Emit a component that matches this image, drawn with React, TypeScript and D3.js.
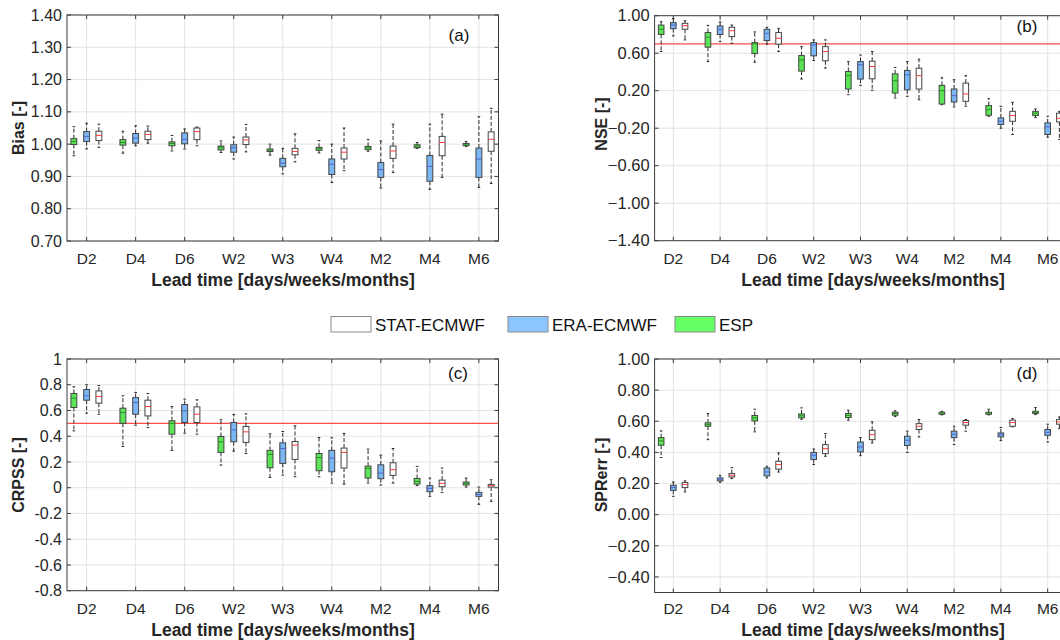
import React from "react";
import * as d3 from "d3";

const categories = ["D2", "D4", "D6", "W2", "W3", "W4", "M2", "M4", "M6"];
const seriesNames = ["STAT-ECMWF", "ERA-ECMWF", "ESP"];

// each entry: [lower whisker, q1, median, q3, upper whisker]
const biasESP = [
  [0.964, 0.999, 1.008, 1.017, 1.054], [0.972, 0.997, 1.005, 1.014, 1.04], [0.979, 0.995, 1.002, 1.007, 1.027],
  [0.974, 0.982, 0.989, 0.994, 1.01], [0.966, 0.977, 0.981, 0.985, 1.0], [0.973, 0.981, 0.986, 0.99, 1.011],
  [0.978, 0.983, 0.989, 0.993, 1.014], [0.987, 0.989, 0.994, 0.998, 1.005], [0.993, 0.995, 0.998, 1.002, 1.008],
];
const biasERA = [
  [0.985, 1.008, 1.024, 1.039, 1.065], [0.995, 1.003, 1.019, 1.033, 1.057], [0.985, 1.001, 1.015, 1.035, 1.047],
  [0.954, 0.975, 0.989, 0.998, 1.022], [0.908, 0.93, 0.941, 0.956, 0.987], [0.881, 0.906, 0.938, 0.954, 1.0],
  [0.864, 0.897, 0.921, 0.943, 1.01], [0.86, 0.885, 0.931, 0.965, 1.062], [0.866, 0.897, 0.954, 0.988, 1.085],
];
const biasSTAT = [
  [0.99, 1.011, 1.027, 1.04, 1.062], [1.003, 1.014, 1.03, 1.04, 1.056], [0.995, 1.014, 1.039, 1.05, 1.053],
  [0.976, 0.999, 1.013, 1.022, 1.061], [0.945, 0.967, 0.977, 0.987, 1.032], [0.918, 0.954, 0.975, 0.988, 1.05],
  [0.912, 0.956, 0.979, 0.994, 1.062], [0.897, 0.964, 1.005, 1.024, 1.093], [0.878, 0.978, 1.015, 1.038, 1.111],
];

const nseESP = [
  [0.618, 0.8, 0.855, 0.9, 0.936], [0.51, 0.664, 0.77, 0.82, 0.897], [0.504, 0.596, 0.7, 0.713, 0.827],
  [0.324, 0.409, 0.529, 0.575, 0.67], [0.158, 0.218, 0.36, 0.405, 0.51], [0.122, 0.175, 0.306, 0.38, 0.448],
  [0.05, 0.058, 0.2, 0.257, 0.338], [-0.073, -0.062, -0.002, 0.041, 0.115], [-0.087, -0.065, -0.04, -0.02, 0.005],
];
const nseERA = [
  [0.784, 0.862, 0.9, 0.926, 0.97], [0.724, 0.8, 0.855, 0.89, 0.933], [0.696, 0.735, 0.812, 0.855, 0.876],
  [0.522, 0.572, 0.688, 0.713, 0.742], [0.257, 0.324, 0.476, 0.51, 0.58], [0.14, 0.21, 0.37, 0.416, 0.51],
  [0.027, 0.08, 0.147, 0.218, 0.317], [-0.2, -0.16, -0.125, -0.09, 0.034], [-0.296, -0.267, -0.186, -0.143, -0.073],
];
const nseSTAT = [
  [0.742, 0.855, 0.894, 0.919, 0.947], [0.706, 0.777, 0.84, 0.876, 0.9], [0.618, 0.696, 0.759, 0.82, 0.865],
  [0.441, 0.519, 0.618, 0.67, 0.742], [0.204, 0.327, 0.458, 0.515, 0.618], [0.104, 0.218, 0.36, 0.44, 0.536],
  [0.034, 0.087, 0.165, 0.281, 0.36], [-0.267, -0.126, -0.065, -0.02, 0.076], [-0.32, -0.133, -0.094, -0.04, -0.02],
];

const crpssESP = [
  [0.442, 0.623, 0.696, 0.732, 0.784], [0.32, 0.5, 0.584, 0.618, 0.714], [0.29, 0.416, 0.5, 0.52, 0.631],
  [0.176, 0.274, 0.357, 0.398, 0.528], [0.08, 0.155, 0.259, 0.29, 0.419], [0.085, 0.132, 0.235, 0.266, 0.39],
  [0.036, 0.075, 0.15, 0.168, 0.3], [0.016, 0.028, 0.049, 0.072, 0.166], [0.005, 0.021, 0.034, 0.044, 0.075],
];
const crpssERA = [
  [0.579, 0.68, 0.714, 0.763, 0.8], [0.486, 0.571, 0.662, 0.7, 0.74], [0.424, 0.507, 0.597, 0.646, 0.688],
  [0.284, 0.357, 0.45, 0.507, 0.569], [0.098, 0.189, 0.305, 0.349, 0.437], [0.036, 0.124, 0.23, 0.29, 0.388],
  [0.021, 0.07, 0.114, 0.178, 0.253], [-0.067, -0.031, -0.005, 0.016, 0.075], [-0.129, -0.067, -0.052, -0.036, 0.005],
];
const crpssSTAT = [
  [0.571, 0.657, 0.709, 0.752, 0.794], [0.468, 0.558, 0.631, 0.68, 0.732], [0.416, 0.507, 0.571, 0.628, 0.683],
  [0.266, 0.352, 0.434, 0.476, 0.574], [0.085, 0.22, 0.331, 0.359, 0.481], [0.028, 0.153, 0.274, 0.308, 0.422],
  [0.036, 0.096, 0.14, 0.194, 0.305], [-0.036, 0.008, 0.034, 0.059, 0.153], [-0.106, 0.005, 0.016, 0.026, 0.062],
];

const sprESP = [
  [0.367, 0.446, 0.474, 0.495, 0.538], [0.482, 0.568, 0.579, 0.59, 0.65], [0.532, 0.602, 0.622, 0.637, 0.677],
  [0.613, 0.622, 0.635, 0.647, 0.686], [0.607, 0.624, 0.637, 0.65, 0.671], [0.63, 0.639, 0.65, 0.658, 0.667],
  [0.641, 0.645, 0.652, 0.658, 0.664], [0.641, 0.645, 0.652, 0.658, 0.677], [0.643, 0.65, 0.658, 0.664, 0.688],
];
const sprERA = [
  [0.118, 0.156, 0.174, 0.189, 0.21], [0.208, 0.217, 0.227, 0.236, 0.253], [0.236, 0.249, 0.274, 0.3, 0.311],
  [0.322, 0.354, 0.382, 0.4, 0.422], [0.379, 0.403, 0.435, 0.467, 0.495], [0.4, 0.444, 0.478, 0.504, 0.536],
  [0.45, 0.495, 0.517, 0.536, 0.568], [0.476, 0.5, 0.514, 0.525, 0.56], [0.467, 0.51, 0.529, 0.547, 0.581],
];
const sprSTAT = [
  [0.146, 0.174, 0.193, 0.206, 0.217], [0.232, 0.242, 0.253, 0.264, 0.302], [0.274, 0.292, 0.322, 0.343, 0.397],
  [0.375, 0.392, 0.424, 0.45, 0.521], [0.461, 0.482, 0.514, 0.542, 0.596], [0.499, 0.547, 0.568, 0.585, 0.611],
  [0.536, 0.575, 0.592, 0.605, 0.611], [0.564, 0.568, 0.592, 0.607, 0.617], [0.553, 0.581, 0.596, 0.611, 0.628],
];

const biasTicks = [0.7, 0.8, 0.9, 1.0, 1.1, 1.2, 1.3, 1.4];
const nseTicks = [-1.4, -1.0, -0.6, -0.2, 0.2, 0.6, 1.0];
const crpssTicks = [-0.8, -0.6, -0.4, -0.2, 0, 0.2, 0.4, 0.6, 0.8, 1];
const sprTicks = [-0.4, -0.2, 0, 0.2, 0.4, 0.6, 0.8, 1.0];

const FONT = "'Liberation Sans', Arial, Helvetica, sans-serif";
const COL_ESP = "#5ce457";
const COL_ERA = "#7ab6f2";
const COL_STAT = "#ffffff";

type Stats = number[][];

interface PanelProps {
  left: number; right: number; top: number; bottom: number;
  domain: [number, number];
  ticks: number[];
  fmt: (v: number) => string;
  esp: Stats; era: Stats; stat: Stats;
  refLine?: number;
  tag: string; tagX: number; tagY: number;
  yTitle: string; yTitleX: number; yTitleY: number;
  yTickSize: number; xTickSize: number;
  xTitleX: number; xTickY: number; xTitleY: number;
}

function Panel(p: PanelProps) {
  const x = d3.scaleLinear().domain([0.6, 9.4]).range([p.left, p.right]);
  const y = d3.scaleLinear().domain(p.domain).range([p.bottom, p.top]);
  const unit = x(1) - x(0);
  const bw = 0.12 * unit;
  const series = [
    { data: p.esp, off: -0.26, fill: COL_ESP, med: "#2f8a2a" },
    { data: p.era, off: 0, fill: COL_ERA, med: "#5561c8" },
    { data: p.stat, off: 0.25, fill: COL_STAT, med: "#ff3b3b" },
  ];
  const clipId = "clip-" + p.tag.replace(/[()]/g, "");
  return (
    <g>
      <defs>
        <clipPath id={clipId}>
          <rect x={p.left} y={p.top} width={p.right - p.left} height={p.bottom - p.top} />
        </clipPath>
      </defs>
      <rect x={p.left} y={p.top} width={p.right - p.left} height={p.bottom - p.top} fill="#fff" />
      {p.ticks.map((t) => (
        <line key={"gy" + t} x1={p.left} x2={p.right} y1={y(t)} y2={y(t)} stroke="#e3e3e3" strokeWidth={1} />
      ))}
      {categories.map((c, i) => (
        <line key={"gx" + c} x1={x(i + 1)} x2={x(i + 1)} y1={p.top} y2={p.bottom} stroke="#e3e3e3" strokeWidth={1} />
      ))}
      {p.refLine !== undefined && (
        <line x1={p.left} x2={p.right} y1={y(p.refLine)} y2={y(p.refLine)} stroke="#ff4d4d" strokeWidth={1.2} />
      )}
      <g clipPath={`url(#${clipId})`}>
        {series.map((s, si) =>
          s.data.map((d, i) => {
            const cx = x(i + 1 + s.off);
            const [lo, q1, med, q3, hi] = d;
            const cap = bw * 0.45;
            return (
              <g key={si + "-" + i}>
                <line x1={cx} x2={cx} y1={y(q3)} y2={y(hi)} stroke="#2a2a2a" strokeWidth={1} strokeDasharray="4,2" />
                <line x1={cx} x2={cx} y1={y(q1)} y2={y(lo)} stroke="#2a2a2a" strokeWidth={1} strokeDasharray="4,2" />
                <line x1={cx - cap / 2} x2={cx + cap / 2} y1={y(hi)} y2={y(hi)} stroke="#2a2a2a" strokeWidth={1} />
                <line x1={cx - cap / 2} x2={cx + cap / 2} y1={y(lo)} y2={y(lo)} stroke="#2a2a2a" strokeWidth={1} />
                <rect x={cx - bw / 2} y={y(q3)} width={bw} height={Math.max(1, y(q1) - y(q3))}
                  fill={s.fill} stroke="#444" strokeWidth={1} />
                <line x1={cx - bw / 2} x2={cx + bw / 2} y1={y(med)} y2={y(med)} stroke={s.med} strokeWidth={1} />
              </g>
            );
          })
        )}
      </g>
      <rect x={p.left} y={p.top} width={p.right - p.left} height={p.bottom - p.top} fill="none" stroke="#3c3c3c" strokeWidth={1} />
      {p.ticks.map((t) => (
        <g key={"ty" + t}>
          <line x1={p.left} x2={p.left + 4} y1={y(t)} y2={y(t)} stroke="#3c3c3c" />
          <line x1={p.right} x2={p.right - 4} y1={y(t)} y2={y(t)} stroke="#3c3c3c" />
        </g>
      ))}
      {categories.map((c, i) => (
        <g key={"tx" + c}>
          <line x1={x(i + 1)} x2={x(i + 1)} y1={p.bottom} y2={p.bottom - 4} stroke="#3c3c3c" />
          <line x1={x(i + 1)} x2={x(i + 1)} y1={p.top} y2={p.top + 4} stroke="#3c3c3c" />
        </g>
      ))}
      {p.ticks.map((t) => (
        <text key={"ly" + t} x={p.left - 5} y={y(t)} dy="0.35em" textAnchor="end"
          fontFamily={FONT} fontSize={p.yTickSize} fill="#262626">{p.fmt(t)}</text>
      ))}
      {categories.map((c, i) => (
        <text key={"lx" + c} x={x(i + 1)} y={p.xTickY} textAnchor="middle"
          fontFamily={FONT} fontSize={p.xTickSize} fill="#262626">{c}</text>
      ))}
      <text x={p.xTitleX} y={p.xTitleY} textAnchor="middle" fontFamily={FONT} fontWeight="bold"
        fontSize={17.5} fill="#262626">Lead time [days/weeks/months]</text>
      <text transform={`translate(${p.yTitleX},${p.yTitleY}) rotate(-90)`} textAnchor="middle"
        dy="0.35em" fontFamily={FONT} fontWeight="bold" fontSize={16} fill="#262626">{p.yTitle}</text>
      <text x={p.tagX} y={p.tagY} textAnchor="middle" fontFamily={FONT} fontSize={17} fill="#111">{p.tag}</text>
    </g>
  );
}

const f2 = d3.format(".2f");
const fShort = (v: number) => String(Math.round(v * 10) / 10);

export default function App() {
  const legendColors = [COL_STAT, "#8dc5ff", "#66ff66"];
  const legendX = [331, 508, 675];
  return (
    <div style={{ position: "fixed", left: 0, top: 0 }}>
      <svg width={1060} height={640} style={{ display: "block", background: "#fff" }}>
        <Panel left={67} right={498.5} top={15} bottom={241} domain={[0.7, 1.4]} ticks={biasTicks} fmt={f2}
          esp={biasESP} era={biasERA} stat={biasSTAT}
          tag="(a)" tagX={459} tagY={41} yTitle="Bias [-]" yTitleX={18} yTitleY={128}
          yTickSize={16} xTickSize={15.5} xTitleX={283} xTickY={264} xTitleY={286} />
        <Panel left={654.6} right={1066.4} top={15.7} bottom={240.7} domain={[-1.4, 1.0]} ticks={nseTicks} fmt={f2}
          esp={nseESP} era={nseERA} stat={nseSTAT} refLine={0.7}
          tag="(b)" tagX={1027} tagY={32} yTitle="NSE [-]" yTitleX={601} yTitleY={124}
          yTickSize={16.5} xTickSize={15.5} xTitleX={873} xTickY={264} xTitleY={286} />
        <Panel left={67} right={498.5} top={359} bottom={590.7} domain={[-0.8, 1]} ticks={crpssTicks} fmt={fShort}
          esp={crpssESP} era={crpssERA} stat={crpssSTAT} refLine={0.5}
          tag="(c)" tagX={458} tagY={379} yTitle="CRPSS [-]" yTitleX={18} yTitleY={475}
          yTickSize={16} xTickSize={15.5} xTitleX={283} xTickY={614} xTitleY={636} />
        <Panel left={654.6} right={1066.4} top={359} bottom={592.5} domain={[-0.5, 1.0]} ticks={sprTicks} fmt={f2}
          esp={sprESP} era={sprERA} stat={sprSTAT}
          tag="(d)" tagX={1027} tagY={379} yTitle="SPRerr [-]" yTitleX={601} yTitleY={475}
          yTickSize={16.5} xTickSize={15.5} xTitleX={873} xTickY={614} xTitleY={636} />
        {seriesNames.map((n, i) => (
          <g key={n}>
            <rect x={legendX[i]} y={316.5} width={40} height={15.5} fill={legendColors[i]} stroke="#8a8a8a" strokeWidth={1} />
            <text x={legendX[i] + 44} y={331} fontFamily={FONT} fontSize={17} fill="#111">{n}</text>
          </g>
        ))}
      </svg>
    </div>
  );
}
